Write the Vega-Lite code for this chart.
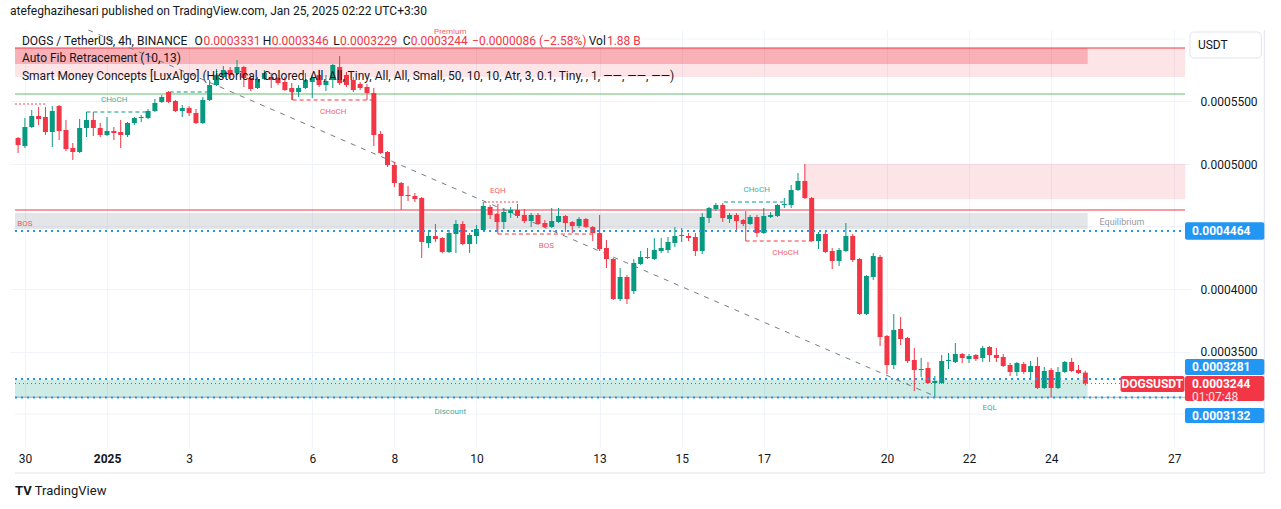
{
"$schema": "https://vega.github.io/schema/vega-lite/v6.json",
"width": 1180, "height": 417,
"autosize": {"type": "none"},
"padding": {"left": 10, "top": 30, "right": 91, "bottom": 62},
"background": "#ffffff",
"title": {"text": "atefeghazihesari published on TradingView.com, Jan 25, 2025 02:22 UTC+3:30", "anchor": "start", "frame": "group", "offset": 10, "fontSize": 12, "fontWeight": "normal", "color": "#131722", "font": "Roboto"},
"config": {"view": {"stroke": null}, "font": "Roboto",
  "axis": {"grid": true, "gridColor": "#f0f3fa", "ticks": false, "domain": false, "labelColor": "#131722", "labelFontSize": 12, "labelFont": "Roboto", "labelFlush": false, "labelOverlap": false},
  "axisX": {"labelPadding": 6}, "axisY": {"labelPadding": 10}},
"datasets": {
"candles": [
{"t":"2024-12-29T20:00","o":0.0005208,"h":0.0005216,"l":0.0005088,"c":0.0005152},
{"t":"2024-12-30T00:00","o":0.0005144,"h":0.0005368,"l":0.0005128,"c":0.0005296},
{"t":"2024-12-30T04:00","o":0.0005296,"h":0.0005432,"l":0.0005288,"c":0.0005384},
{"t":"2024-12-30T08:00","o":0.0005384,"h":0.0005456,"l":0.0005312,"c":0.0005360},
{"t":"2024-12-30T12:00","o":0.0005376,"h":0.0005456,"l":0.0005232,"c":0.0005256},
{"t":"2024-12-30T16:00","o":0.0005256,"h":0.0005464,"l":0.0005136,"c":0.0005424},
{"t":"2024-12-30T20:00","o":0.0005464,"h":0.0005472,"l":0.0005192,"c":0.0005264},
{"t":"2024-12-31T00:00","o":0.0005272,"h":0.0005352,"l":0.0005104,"c":0.0005120},
{"t":"2024-12-31T04:00","o":0.0005128,"h":0.0005168,"l":0.0005032,"c":0.0005096},
{"t":"2024-12-31T08:00","o":0.0005096,"h":0.0005360,"l":0.0005088,"c":0.0005288},
{"t":"2024-12-31T12:00","o":0.0005288,"h":0.0005416,"l":0.0005216,"c":0.0005352},
{"t":"2024-12-31T16:00","o":0.0005352,"h":0.0005416,"l":0.0005224,"c":0.0005288},
{"t":"2024-12-31T20:00","o":0.0005288,"h":0.0005328,"l":0.0005216,"c":0.0005232},
{"t":"2025-01-01T00:00","o":0.0005232,"h":0.0005376,"l":0.0005224,"c":0.0005264},
{"t":"2025-01-01T04:00","o":0.0005264,"h":0.0005296,"l":0.0005192,"c":0.0005248},
{"t":"2025-01-01T08:00","o":0.0005256,"h":0.0005352,"l":0.0005128,"c":0.0005232},
{"t":"2025-01-01T12:00","o":0.0005232,"h":0.0005336,"l":0.0005216,"c":0.0005328},
{"t":"2025-01-01T16:00","o":0.0005328,"h":0.0005376,"l":0.0005312,"c":0.0005368},
{"t":"2025-01-01T20:00","o":0.0005368,"h":0.0005392,"l":0.0005336,"c":0.0005376},
{"t":"2025-01-02T00:00","o":0.0005368,"h":0.0005440,"l":0.0005360,"c":0.0005424},
{"t":"2025-01-02T04:00","o":0.0005424,"h":0.0005520,"l":0.0005416,"c":0.0005488},
{"t":"2025-01-02T08:00","o":0.0005496,"h":0.0005552,"l":0.0005488,"c":0.0005536},
{"t":"2025-01-02T12:00","o":0.0005576,"h":0.0005584,"l":0.0005488,"c":0.0005496},
{"t":"2025-01-02T16:00","o":0.0005504,"h":0.0005512,"l":0.0005416,"c":0.0005424},
{"t":"2025-01-02T20:00","o":0.0005424,"h":0.0005472,"l":0.0005376,"c":0.0005448},
{"t":"2025-01-03T00:00","o":0.0005448,"h":0.0005464,"l":0.0005384,"c":0.0005408},
{"t":"2025-01-03T04:00","o":0.0005408,"h":0.0005440,"l":0.0005320,"c":0.0005328},
{"t":"2025-01-03T08:00","o":0.0005328,"h":0.0005536,"l":0.0005320,"c":0.0005512},
{"t":"2025-01-03T12:00","o":0.0005512,"h":0.0005672,"l":0.0005504,"c":0.0005632},
{"t":"2025-01-03T16:00","o":0.0005632,"h":0.0005760,"l":0.0005624,"c":0.0005712},
{"t":"2025-01-03T20:00","o":0.0005696,"h":0.0005784,"l":0.0005688,"c":0.0005752},
{"t":"2025-01-04T00:00","o":0.0005752,"h":0.0005776,"l":0.0005688,"c":0.0005712},
{"t":"2025-01-04T04:00","o":0.0005728,"h":0.0005832,"l":0.0005712,"c":0.0005776},
{"t":"2025-01-04T08:00","o":0.0005776,"h":0.0005784,"l":0.0005616,"c":0.0005688},
{"t":"2025-01-04T12:00","o":0.0005688,"h":0.0005712,"l":0.0005584,"c":0.0005600},
{"t":"2025-01-04T16:00","o":0.0005608,"h":0.0005696,"l":0.0005600,"c":0.0005680},
{"t":"2025-01-04T20:00","o":0.0005680,"h":0.0005752,"l":0.0005672,"c":0.0005728},
{"t":"2025-01-05T00:00","o":0.0005696,"h":0.0005728,"l":0.0005608,"c":0.0005672},
{"t":"2025-01-05T04:00","o":0.0005688,"h":0.0005696,"l":0.0005632,"c":0.0005648},
{"t":"2025-01-05T08:00","o":0.0005656,"h":0.0005696,"l":0.0005584,"c":0.0005592},
{"t":"2025-01-05T12:00","o":0.0005608,"h":0.0005648,"l":0.0005512,"c":0.0005576},
{"t":"2025-01-05T16:00","o":0.0005576,"h":0.0005632,"l":0.0005536,"c":0.0005608},
{"t":"2025-01-05T20:00","o":0.0005608,"h":0.0005728,"l":0.0005600,"c":0.0005672},
{"t":"2025-01-06T00:00","o":0.0005656,"h":0.0005712,"l":0.0005528,"c":0.0005688},
{"t":"2025-01-06T04:00","o":0.0005712,"h":0.0005752,"l":0.0005616,"c":0.0005632},
{"t":"2025-01-06T08:00","o":0.0005632,"h":0.0005712,"l":0.0005584,"c":0.0005664},
{"t":"2025-01-06T12:00","o":0.0005672,"h":0.0005800,"l":0.0005608,"c":0.0005792},
{"t":"2025-01-06T16:00","o":0.0005776,"h":0.0005864,"l":0.0005632,"c":0.0005648},
{"t":"2025-01-06T20:00","o":0.0005712,"h":0.0005736,"l":0.0005616,"c":0.0005632},
{"t":"2025-01-07T00:00","o":0.0005672,"h":0.0005696,"l":0.0005576,"c":0.0005592},
{"t":"2025-01-07T04:00","o":0.0005640,"h":0.0005656,"l":0.0005592,"c":0.0005608},
{"t":"2025-01-07T08:00","o":0.0005616,"h":0.0005640,"l":0.0005512,"c":0.0005568},
{"t":"2025-01-07T12:00","o":0.0005568,"h":0.0005608,"l":0.0005144,"c":0.0005232},
{"t":"2025-01-07T16:00","o":0.0005240,"h":0.0005264,"l":0.0005080,"c":0.0005088},
{"t":"2025-01-07T20:00","o":0.0005096,"h":0.0005104,"l":0.0004976,"c":0.0004992},
{"t":"2025-01-08T00:00","o":0.0004992,"h":0.0005016,"l":0.0004816,"c":0.0004848},
{"t":"2025-01-08T04:00","o":0.0004848,"h":0.0004856,"l":0.0004632,"c":0.0004744},
{"t":"2025-01-08T08:00","o":0.0004752,"h":0.0004824,"l":0.0004704,"c":0.0004744},
{"t":"2025-01-08T12:00","o":0.0004744,"h":0.0004768,"l":0.0004696,"c":0.0004720},
{"t":"2025-01-08T16:00","o":0.0004728,"h":0.0004736,"l":0.0004248,"c":0.0004376},
{"t":"2025-01-08T20:00","o":0.0004368,"h":0.0004472,"l":0.0004328,"c":0.0004424},
{"t":"2025-01-09T00:00","o":0.0004424,"h":0.0004520,"l":0.0004376,"c":0.0004400},
{"t":"2025-01-09T04:00","o":0.0004408,"h":0.0004416,"l":0.0004288,"c":0.0004296},
{"t":"2025-01-09T08:00","o":0.0004296,"h":0.0004472,"l":0.0004288,"c":0.0004448},
{"t":"2025-01-09T12:00","o":0.0004440,"h":0.0004552,"l":0.0004288,"c":0.0004520},
{"t":"2025-01-09T16:00","o":0.0004520,"h":0.0004544,"l":0.0004352,"c":0.0004360},
{"t":"2025-01-09T20:00","o":0.0004360,"h":0.0004448,"l":0.0004288,"c":0.0004432},
{"t":"2025-01-10T00:00","o":0.0004424,"h":0.0004512,"l":0.0004360,"c":0.0004480},
{"t":"2025-01-10T04:00","o":0.0004472,"h":0.0004696,"l":0.0004464,"c":0.0004664},
{"t":"2025-01-10T08:00","o":0.0004656,"h":0.0004672,"l":0.0004560,"c":0.0004592},
{"t":"2025-01-10T12:00","o":0.0004600,"h":0.0004608,"l":0.0004456,"c":0.0004536},
{"t":"2025-01-10T16:00","o":0.0004536,"h":0.0004648,"l":0.0004480,"c":0.0004616},
{"t":"2025-01-10T20:00","o":0.0004608,"h":0.0004656,"l":0.0004568,"c":0.0004632},
{"t":"2025-01-11T00:00","o":0.0004632,"h":0.0004680,"l":0.0004568,"c":0.0004584},
{"t":"2025-01-11T04:00","o":0.0004592,"h":0.0004640,"l":0.0004528,"c":0.0004544},
{"t":"2025-01-11T08:00","o":0.0004544,"h":0.0004608,"l":0.0004496,"c":0.0004592},
{"t":"2025-01-11T12:00","o":0.0004592,"h":0.0004608,"l":0.0004512,"c":0.0004520},
{"t":"2025-01-11T16:00","o":0.0004528,"h":0.0004552,"l":0.0004488,"c":0.0004496},
{"t":"2025-01-11T20:00","o":0.0004496,"h":0.0004648,"l":0.0004488,"c":0.0004544},
{"t":"2025-01-12T00:00","o":0.0004536,"h":0.0004648,"l":0.0004528,"c":0.0004584},
{"t":"2025-01-12T04:00","o":0.0004584,"h":0.0004592,"l":0.0004456,"c":0.0004528},
{"t":"2025-01-12T08:00","o":0.0004536,"h":0.0004544,"l":0.0004448,"c":0.0004504},
{"t":"2025-01-12T12:00","o":0.0004504,"h":0.0004576,"l":0.0004488,"c":0.0004560},
{"t":"2025-01-12T16:00","o":0.0004560,"h":0.0004568,"l":0.0004488,"c":0.0004496},
{"t":"2025-01-12T20:00","o":0.0004496,"h":0.0004504,"l":0.0004384,"c":0.0004448},
{"t":"2025-01-13T00:00","o":0.0004448,"h":0.0004592,"l":0.0004304,"c":0.0004320},
{"t":"2025-01-13T04:00","o":0.0004328,"h":0.0004392,"l":0.0004168,"c":0.0004240},
{"t":"2025-01-13T08:00","o":0.0004240,"h":0.0004248,"l":0.0003912,"c":0.0003920},
{"t":"2025-01-13T12:00","o":0.0003920,"h":0.0004168,"l":0.0003904,"c":0.0004096},
{"t":"2025-01-13T16:00","o":0.0004096,"h":0.0004112,"l":0.0003880,"c":0.0003920},
{"t":"2025-01-13T20:00","o":0.0003984,"h":0.0004240,"l":0.0003960,"c":0.0004208},
{"t":"2025-01-14T00:00","o":0.0004200,"h":0.0004304,"l":0.0004192,"c":0.0004256},
{"t":"2025-01-14T04:00","o":0.0004256,"h":0.0004328,"l":0.0004240,"c":0.0004248},
{"t":"2025-01-14T08:00","o":0.0004240,"h":0.0004408,"l":0.0004232,"c":0.0004312},
{"t":"2025-01-14T12:00","o":0.0004304,"h":0.0004408,"l":0.0004288,"c":0.0004328},
{"t":"2025-01-14T16:00","o":0.0004312,"h":0.0004416,"l":0.0004288,"c":0.0004376},
{"t":"2025-01-14T20:00","o":0.0004368,"h":0.0004496,"l":0.0004336,"c":0.0004424},
{"t":"2025-01-15T00:00","o":0.0004424,"h":0.0004488,"l":0.0004376,"c":0.0004432},
{"t":"2025-01-15T04:00","o":0.0004424,"h":0.0004448,"l":0.0004384,"c":0.0004408},
{"t":"2025-01-15T08:00","o":0.0004416,"h":0.0004448,"l":0.0004264,"c":0.0004304},
{"t":"2025-01-15T12:00","o":0.0004304,"h":0.0004608,"l":0.0004280,"c":0.0004576},
{"t":"2025-01-15T16:00","o":0.0004568,"h":0.0004656,"l":0.0004528,"c":0.0004648},
{"t":"2025-01-15T20:00","o":0.0004640,"h":0.0004688,"l":0.0004624,"c":0.0004672},
{"t":"2025-01-16T00:00","o":0.0004672,"h":0.0004688,"l":0.0004536,"c":0.0004568},
{"t":"2025-01-16T04:00","o":0.0004560,"h":0.0004608,"l":0.0004528,"c":0.0004592},
{"t":"2025-01-16T08:00","o":0.0004592,"h":0.0004608,"l":0.0004464,"c":0.0004544},
{"t":"2025-01-16T12:00","o":0.0004552,"h":0.0004560,"l":0.0004504,"c":0.0004520},
{"t":"2025-01-16T16:00","o":0.0004520,"h":0.0004592,"l":0.0004512,"c":0.0004576},
{"t":"2025-01-16T20:00","o":0.0004576,"h":0.0004592,"l":0.0004416,"c":0.0004448},
{"t":"2025-01-17T00:00","o":0.0004448,"h":0.0004648,"l":0.0004440,"c":0.0004584},
{"t":"2025-01-17T04:00","o":0.0004576,"h":0.0004616,"l":0.0004568,"c":0.0004592},
{"t":"2025-01-17T08:00","o":0.0004584,"h":0.0004680,"l":0.0004576,"c":0.0004672},
{"t":"2025-01-17T12:00","o":0.0004672,"h":0.0004728,"l":0.0004648,"c":0.0004680},
{"t":"2025-01-17T16:00","o":0.0004672,"h":0.0004832,"l":0.0004648,"c":0.0004792},
{"t":"2025-01-17T20:00","o":0.0004792,"h":0.0004928,"l":0.0004784,"c":0.0004864},
{"t":"2025-01-18T00:00","o":0.0004864,"h":0.0005000,"l":0.0004720,"c":0.0004728},
{"t":"2025-01-18T04:00","o":0.0004728,"h":0.0004736,"l":0.0004376,"c":0.0004384},
{"t":"2025-01-18T08:00","o":0.0004384,"h":0.0004456,"l":0.0004320,"c":0.0004440},
{"t":"2025-01-18T12:00","o":0.0004440,"h":0.0004464,"l":0.0004288,"c":0.0004296},
{"t":"2025-01-18T16:00","o":0.0004304,"h":0.0004328,"l":0.0004160,"c":0.0004224},
{"t":"2025-01-18T20:00","o":0.0004224,"h":0.0004328,"l":0.0004184,"c":0.0004312},
{"t":"2025-01-19T00:00","o":0.0004304,"h":0.0004528,"l":0.0004296,"c":0.0004424},
{"t":"2025-01-19T04:00","o":0.0004424,"h":0.0004440,"l":0.0004216,"c":0.0004232},
{"t":"2025-01-19T08:00","o":0.0004240,"h":0.0004248,"l":0.0003792,"c":0.0003800},
{"t":"2025-01-19T12:00","o":0.0003800,"h":0.0004112,"l":0.0003792,"c":0.0004104},
{"t":"2025-01-19T16:00","o":0.0004096,"h":0.0004288,"l":0.0004072,"c":0.0004264},
{"t":"2025-01-19T20:00","o":0.0004256,"h":0.0004272,"l":0.0003544,"c":0.0003616},
{"t":"2025-01-20T00:00","o":0.0003624,"h":0.0003632,"l":0.0003320,"c":0.0003392},
{"t":"2025-01-20T04:00","o":0.0003392,"h":0.0003800,"l":0.0003360,"c":0.0003672},
{"t":"2025-01-20T08:00","o":0.0003680,"h":0.0003776,"l":0.0003552,"c":0.0003600},
{"t":"2025-01-20T12:00","o":0.0003608,"h":0.0003616,"l":0.0003408,"c":0.0003424},
{"t":"2025-01-20T16:00","o":0.0003432,"h":0.0003528,"l":0.0003184,"c":0.0003352},
{"t":"2025-01-20T20:00","o":0.0003352,"h":0.0003448,"l":0.0003296,"c":0.0003360},
{"t":"2025-01-21T00:00","o":0.0003368,"h":0.0003416,"l":0.0003240,"c":0.0003248},
{"t":"2025-01-21T04:00","o":0.0003248,"h":0.0003304,"l":0.0003132,"c":0.0003264},
{"t":"2025-01-21T08:00","o":0.0003248,"h":0.0003472,"l":0.0003240,"c":0.0003424},
{"t":"2025-01-21T12:00","o":0.0003424,"h":0.0003488,"l":0.0003360,"c":0.0003432},
{"t":"2025-01-21T16:00","o":0.0003416,"h":0.0003568,"l":0.0003408,"c":0.0003480},
{"t":"2025-01-21T20:00","o":0.0003480,"h":0.0003488,"l":0.0003408,"c":0.0003448},
{"t":"2025-01-22T00:00","o":0.0003440,"h":0.0003480,"l":0.0003408,"c":0.0003464},
{"t":"2025-01-22T04:00","o":0.0003472,"h":0.0003480,"l":0.0003424,"c":0.0003440},
{"t":"2025-01-22T08:00","o":0.0003448,"h":0.0003544,"l":0.0003416,"c":0.0003528},
{"t":"2025-01-22T12:00","o":0.0003536,"h":0.0003544,"l":0.0003416,"c":0.0003472},
{"t":"2025-01-22T16:00","o":0.0003472,"h":0.0003528,"l":0.0003416,"c":0.0003448},
{"t":"2025-01-22T20:00","o":0.0003456,"h":0.0003480,"l":0.0003376,"c":0.0003384},
{"t":"2025-01-23T00:00","o":0.0003392,"h":0.0003408,"l":0.0003304,"c":0.0003336},
{"t":"2025-01-23T04:00","o":0.0003336,"h":0.0003416,"l":0.0003304,"c":0.0003408},
{"t":"2025-01-23T08:00","o":0.0003400,"h":0.0003416,"l":0.0003320,"c":0.0003336},
{"t":"2025-01-23T12:00","o":0.0003336,"h":0.0003424,"l":0.0003288,"c":0.0003384},
{"t":"2025-01-23T16:00","o":0.0003384,"h":0.0003456,"l":0.0003200,"c":0.0003208},
{"t":"2025-01-23T20:00","o":0.0003208,"h":0.0003376,"l":0.0003200,"c":0.0003344},
{"t":"2025-01-24T00:00","o":0.0003352,"h":0.0003368,"l":0.0003135,"c":0.0003208},
{"t":"2025-01-24T04:00","o":0.0003208,"h":0.0003376,"l":0.0003200,"c":0.0003336},
{"t":"2025-01-24T08:00","o":0.0003336,"h":0.0003424,"l":0.0003328,"c":0.0003416},
{"t":"2025-01-24T12:00","o":0.0003416,"h":0.0003448,"l":0.0003336,"c":0.0003344},
{"t":"2025-01-24T16:00","o":0.0003352,"h":0.0003392,"l":0.0003320,"c":0.0003328},
{"t":"2025-01-24T20:00","o":0.0003331,"h":0.0003346,"l":0.0003229,"c":0.0003244}
]
},
"layer": [
{"data": {"values": [{"t":"2024-12-29T18:12","t2":"2025-01-27T06:16","p":0.0006},{"t":"2024-12-29T18:12","t2":"2025-01-27T06:16","p":0.00045},{"t":"2024-12-29T18:12","t2":"2025-01-27T06:16","p":0.0003}]},
 "mark": {"type": "rule", "color": "#f0f3fa", "strokeWidth": 1},
 "encoding": {"x": {"field": "t", "type": "temporal", "title": null}, "x2": {"field": "t2"}, "y": {"field": "p", "type": "quantitative", "title": null}}},
{"data": {"values": [{"t":"2024-12-29T18:12","t2":"2025-01-27T06:16","p":0.0005928,"p2":0.0005696}]},
 "mark": {"type": "rect", "color": "#f23645", "opacity": 0.13},
 "encoding": {
  "x": {"field": "t", "type": "temporal", "title": null, "scale": {"domain": [{"year":2024,"month":12,"date":29,"hours":18,"minutes":12},{"year":2025,"month":1,"date":27,"hours":6,"minutes":16}]},
        "axis": {"values": [{"year":2024,"month":12,"date":30},{"year":2025,"month":1,"date":1},{"year":2025,"month":1,"date":3},{"year":2025,"month":1,"date":6},{"year":2025,"month":1,"date":8},{"year":2025,"month":1,"date":10},{"year":2025,"month":1,"date":13},{"year":2025,"month":1,"date":15},{"year":2025,"month":1,"date":17},{"year":2025,"month":1,"date":20},{"year":2025,"month":1,"date":22},{"year":2025,"month":1,"date":24},{"year":2025,"month":1,"date":27}],
                 "labelExpr": "(month(datum.value)==0 && date(datum.value)==1) ? '2025' : ('' + date(datum.value))",
                 "labelFontWeight": {"condition": {"test": "month(datum.value)==0 && date(datum.value)==1", "value": "bold"}, "value": "normal"},
                 "title": null}},
  "x2": {"field": "t2"},
  "y": {"field": "p", "type": "quantitative", "title": null, "scale": {"domain": [0.0002736, 0.0006072], "zero": false, "nice": false},
        "axis": {"orient": "right", "values": [0.00035,0.0004,0.0005,0.00055], "format": ".7f", "title": null}},
  "y2": {"field": "p2"}
 }},
{"data": {"values": [{"t":"2024-12-29T18:12","t2":"2025-01-24T21:20","p":0.0005928,"p2":0.0005800}]},
 "mark": {"type": "rect", "color": "#f23645", "opacity": 0.3},
 "encoding": {"x": {"field": "t", "type": "temporal", "title": null}, "x2": {"field": "t2"}, "y": {"field": "p", "type": "quantitative", "title": null}, "y2": {"field": "p2"}}},
{"data": {"values": [{"t":"2025-01-18T00:00","t2":"2025-01-27T06:16","p":0.0005000,"p2":0.0004720}]},
 "mark": {"type": "rect", "color": "#f23645", "opacity": 0.13, "stroke": "#f23645", "strokeOpacity": 0.25, "strokeWidth": 1},
 "encoding": {"x": {"field": "t", "type": "temporal", "title": null}, "x2": {"field": "t2"}, "y": {"field": "p", "type": "quantitative", "title": null}, "y2": {"field": "p2"}}},
{"data": {"values": [{"t":"2024-12-29T18:12","t2":"2025-01-24T21:20","p":0.0004608,"p2":0.0004480}]},
 "mark": {"type": "rect", "color": "#787b86", "opacity": 0.2},
 "encoding": {"x": {"field": "t", "type": "temporal", "title": null}, "x2": {"field": "t2"}, "y": {"field": "p", "type": "quantitative", "title": null}, "y2": {"field": "p2"}}},
{"data": {"values": [{"t":"2024-12-29T18:12","t2":"2025-01-24T21:20","p":0.0003272,"p2":0.0003132}]},
 "mark": {"type": "rect", "color": "#089981", "opacity": 0.2},
 "encoding": {"x": {"field": "t", "type": "temporal", "title": null}, "x2": {"field": "t2"}, "y": {"field": "p", "type": "quantitative", "title": null}, "y2": {"field": "p2"}}},
{"data": {"values": [{"t":"2024-12-29T18:12","t2":"2025-01-27T06:16","p":0.0005928},{"t":"2024-12-29T18:12","t2":"2025-01-27T06:16","p":0.0004632}]},
 "mark": {"type": "rule", "color": "#f23645", "strokeWidth": 1},
 "encoding": {"x": {"field": "t", "type": "temporal", "title": null}, "x2": {"field": "t2"}, "y": {"field": "p", "type": "quantitative", "title": null}}},
{"data": {"values": [{"t":"2024-12-29T18:12","t2":"2025-01-27T06:16","p":0.0005560}]},
 "mark": {"type": "rule", "color": "#66bb6a", "strokeWidth": 1},
 "encoding": {"x": {"field": "t", "type": "temporal", "title": null}, "x2": {"field": "t2"}, "y": {"field": "p", "type": "quantitative", "title": null}}},
{"data": {"values": [{"t":"2024-12-29T18:12","t2":"2025-01-27T06:16","p":0.0003134}]},
 "mark": {"type": "rule", "color": "#787b86", "strokeWidth": 1, "opacity": 0.6},
 "encoding": {"x": {"field": "t", "type": "temporal", "title": null}, "x2": {"field": "t2"}, "y": {"field": "p", "type": "quantitative", "title": null}}},
{"data": {"values": [{"t":"2024-12-29T18:12","t2":"2025-01-29T04:38","p":0.0002528},{"t":"2025-01-29T04:38","t2":"2025-01-29T04:38","p":0.0006072,"p2":0.0002528}]},
 "mark": {"type": "rule", "color": "#e0e3eb", "strokeWidth": 1, "clip": false},
 "encoding": {"x": {"field": "t", "type": "temporal", "title": null}, "x2": {"field": "t2"}, "y": {"field": "p", "type": "quantitative", "title": null}, "y2": {"field": "p2"}}},
{"data": {"values": [{"t":"2024-12-31T13:06","t2":"2025-01-21T02:26","p":0.0006072,"p2":0.0003152}]},
 "mark": {"type": "rule", "color": "#787b86", "strokeWidth": 1, "strokeDash": [5, 6]},
 "encoding": {"x": {"field": "t", "type": "temporal", "title": null}, "x2": {"field": "t2"}, "y": {"field": "p", "type": "quantitative", "title": null}, "y2": {"field": "p2"}}},
{"data": {"values": [{"t":"2024-12-31T11:57","t2":"2025-01-01T23:18","p":0.0005416},{"t":"2025-01-02T12:39","t2":"2025-01-03T12:24","p":0.0005576},{"t":"2025-01-16T00:42","t2":"2025-01-17T11:28","p":0.0004696}]},
 "mark": {"type": "rule", "color": "#089981", "strokeWidth": 1, "strokeDash": [4, 3]},
 "encoding": {"x": {"field": "t", "type": "temporal", "title": null}, "x2": {"field": "t2"}, "y": {"field": "p", "type": "quantitative", "title": null}}},
{"data": {"values": [{"t":"2025-01-05T12:31","t2":"2025-01-07T12:03","p":0.0005512},{"t":"2025-01-10T12:31","t2":"2025-01-12T19:35","p":0.0004440},{"t":"2025-01-16T13:26","t2":"2025-01-18T03:43","p":0.0004384}]},
 "mark": {"type": "rule", "color": "#f23645", "strokeWidth": 1, "strokeDash": [4, 3]},
 "encoding": {"x": {"field": "t", "type": "temporal", "title": null}, "x2": {"field": "t2"}, "y": {"field": "p", "type": "quantitative", "title": null}}},
{"data": {"values": [{"t":"2025-01-05T12:31","p":0.0005576,"p2":0.0005512},{"t":"2025-01-16T13:26","p":0.0004624,"p2":0.0004384},{"t":"2025-01-10T12:31","p":0.0004680,"p2":0.0004440}]},
 "mark": {"type": "rule", "color": "#f23645", "strokeWidth": 1},
 "encoding": {"x": {"field": "t", "type": "temporal", "title": null}, "y": {"field": "p", "type": "quantitative", "title": null}, "y2": {"field": "p2"}}},
{"data": {"values": [{"t":"2025-01-10T04:25","t2":"2025-01-11T00:42","p":0.0004696},{"t":"2024-12-29T18:12","t2":"2024-12-30T12:45","p":0.0005480}]},
 "mark": {"type": "rule", "color": "#f23645", "strokeWidth": 2, "strokeDash": [2, 2], "opacity": 0.45},
 "encoding": {"x": {"field": "t", "type": "temporal", "title": null}, "x2": {"field": "t2"}, "y": {"field": "p", "type": "quantitative", "title": null}}},
{"data": {"name": "candles"},
 "mark": {"type": "rule", "strokeWidth": 1},
 "encoding": {"x": {"field": "t", "type": "temporal", "title": null}, "y": {"field": "l", "type": "quantitative", "title": null}, "y2": {"field": "h"},
   "color": {"condition": {"test": "datum.c >= datum.o", "value": "#089981"}, "value": "#f23645"}}},
{"data": {"name": "candles"},
 "mark": {"type": "bar", "size": 5},
 "encoding": {"x": {"field": "t", "type": "temporal", "title": null}, "y": {"field": "o", "type": "quantitative", "title": null}, "y2": {"field": "c"},
   "color": {"condition": {"test": "datum.c >= datum.o", "value": "#089981"}, "value": "#f23645"}}},
{"data": {"values": [{"t":"2024-12-29T18:12","t2":"2025-01-27T06:16","p":0.0004464},{"t":"2024-12-29T18:12","t2":"2025-01-27T06:16","p":0.0003281},{"t":"2024-12-29T18:12","t2":"2025-01-27T06:16","p":0.0003132}]},
 "mark": {"type": "rule", "color": "#2196f3", "strokeWidth": 2, "strokeDash": [2, 4]},
 "encoding": {"x": {"field": "t", "type": "temporal", "title": null}, "x2": {"field": "t2"}, "y": {"field": "p", "type": "quantitative", "title": null}}},
{"data": {"values": [{"t":"2024-12-29T18:12","t2":"2025-01-27T06:16","p":0.0003244}]},
 "mark": {"type": "rule", "color": "#f23645", "strokeWidth": 1, "strokeDash": [1, 3]},
 "encoding": {"x": {"field": "t", "type": "temporal", "title": null}, "x2": {"field": "t2"}, "y": {"field": "p", "type": "quantitative", "title": null}}},
{"data": {"values": [{"t":"2024-12-29T22:16","p":0.0005984,"s":"DOGS / TetherUS, 4h, BINANCE"},{"t":"2025-01-03T03:07","p":0.0005984,"s":"O"},{"t":"2025-01-04T19:04","p":0.0005984,"s":"H"},{"t":"2025-01-06T12:12","p":0.0005984,"s":"L"},{"t":"2025-01-08T04:53","p":0.0005984,"s":"C"},{"t":"2025-01-12T17:38","p":0.0005984,"s":"Vol"},{"t":"2024-12-29T22:16","p":0.0005848,"s":"Auto Fib Retracement (10, 13)"},{"t":"2024-12-29T22:16","p":0.0005704,"s":"Smart Money Concepts [LuxAlgo] (Historical, Colored, All, All, Tiny, All, All, Small, 50, 10, 10, Atr, 3, 0.1, Tiny, , 1, ——, ——, ——)"}]},
 "mark": {"type": "text", "align": "left", "baseline": "middle", "fontSize": 12, "color": "#131722", "font": "Roboto"},
 "encoding": {"x": {"field": "t", "type": "temporal", "title": null}, "y": {"field": "p", "type": "quantitative", "title": null}, "text": {"field": "s"}}},
{"data": {"values": [{"t":"2025-01-03T08:21","p":0.0005984,"s":"0.0003331"},{"t":"2025-01-05T00:17","p":0.0005984,"s":"0.0003346"},{"t":"2025-01-06T16:16","p":0.0005984,"s":"0.0003229"},{"t":"2025-01-08T09:32","p":0.0005984,"s":"0.0003244"},{"t":"2025-01-09T21:27","p":0.0005984,"s":"−0.0000086 (−2.58%)"},{"t":"2025-01-13T04:17","p":0.0005984,"s":"1.88 B"}]},
 "mark": {"type": "text", "align": "left", "baseline": "middle", "fontSize": 12, "color": "#f23645", "font": "Roboto"},
 "encoding": {"x": {"field": "t", "type": "temporal", "title": null}, "y": {"field": "p", "type": "quantitative", "title": null}, "text": {"field": "s"}}},
{"data": {"values": [{"t":"2025-01-09T08:41","p":0.0006060,"s":"Premium"},{"t":"2025-01-10T12:31","p":0.0004784,"s":"EQH"},{"t":"2025-01-11T16:55","p":0.0004344,"s":"BOS"},{"t":"2024-12-30T00:00","p":0.0004520,"s":"BOS"},{"t":"2025-01-06T12:17","p":0.0005416,"s":"CHoCH"},{"t":"2025-01-17T12:38","p":0.0004288,"s":"CHoCH"}]},
 "mark": {"type": "text", "align": "center", "baseline": "middle", "fontSize": 8, "color": "#f23645", "opacity": 0.8, "font": "Roboto"},
 "encoding": {"x": {"field": "t", "type": "temporal", "title": null}, "y": {"field": "p", "type": "quantitative", "title": null}, "text": {"field": "s"}}},
{"data": {"values": [{"t":"2025-01-09T08:41","p":0.0003016,"s":"Discount"},{"t":"2025-01-22T12:00","p":0.0003048,"s":"EQL"},{"t":"2025-01-01T04:10","p":0.0005512,"s":"CHoCH"},{"t":"2025-01-16T19:49","p":0.0004792,"s":"CHoCH"}]},
 "mark": {"type": "text", "align": "center", "baseline": "middle", "fontSize": 8, "color": "#089981", "opacity": 0.8, "font": "Roboto"},
 "encoding": {"x": {"field": "t", "type": "temporal", "title": null}, "y": {"field": "p", "type": "quantitative", "title": null}, "text": {"field": "s"}}},
{"data": {"values": [{"t":"2025-01-25T04:19","p":0.0004536,"s":"Equilibrium"}]},
 "mark": {"type": "text", "align": "left", "baseline": "middle", "fontSize": 9, "color": "#9598a1", "font": "Roboto"},
 "encoding": {"x": {"field": "t", "type": "temporal", "title": null}, "y": {"field": "p", "type": "quantitative", "title": null}, "text": {"field": "s"}}},
{"data": {"values": [{"t":"2025-01-27T06:16","t2":"2025-01-29T04:38","p":0.0004534,"p2":0.0004394},{"t":"2025-01-27T06:16","t2":"2025-01-29T04:38","p":0.0003440,"p2":0.0003312},{"t":"2025-01-27T06:16","t2":"2025-01-29T04:38","p":0.0003048,"p2":0.0002928}]},
 "mark": {"type": "rect", "color": "#2196f3", "cornerRadius": 2, "clip": false},
 "encoding": {"x": {"field": "t", "type": "temporal", "title": null}, "x2": {"field": "t2"}, "y": {"field": "p", "type": "quantitative", "title": null}, "y2": {"field": "p2"}}},
{"data": {"values": [{"t":"2025-01-27T06:16","t2":"2025-01-29T04:38","p":0.0003304,"p2":0.0003104},{"t":"2025-01-25T16:35","t2":"2025-01-27T06:00","p":0.0003304,"p2":0.0003176}]},
 "mark": {"type": "rect", "color": "#f23645", "cornerRadius": 2, "clip": false},
 "encoding": {"x": {"field": "t", "type": "temporal", "title": null}, "x2": {"field": "t2"}, "y": {"field": "p", "type": "quantitative", "title": null}, "y2": {"field": "p2"}}},
{"data": {"values": [{"t":"2025-01-27T09:10","t2":"2025-01-29T02:53","p":0.0006056,"p2":0.0005848}]},
 "mark": {"type": "rect", "color": "#ffffff", "stroke": "#e0e3eb", "strokeWidth": 1, "cornerRadius": 4, "clip": false},
 "encoding": {"x": {"field": "t", "type": "temporal", "title": null}, "x2": {"field": "t2"}, "y": {"field": "p", "type": "quantitative", "title": null}, "y2": {"field": "p2"}}},
{"data": {"values": [{"t":"2025-01-27T13:48","p":0.0005952,"s":"USDT"}]},
 "mark": {"type": "text", "align": "left", "baseline": "middle", "fontSize": 12, "color": "#131722", "font": "Roboto", "clip": false},
 "encoding": {"x": {"field": "t", "type": "temporal", "title": null}, "y": {"field": "p", "type": "quantitative", "title": null}, "text": {"field": "s"}}},
{"data": {"values": [{"t":"2025-01-27T10:19","p":0.0004464,"s":"0.0004464"},{"t":"2025-01-27T10:19","p":0.0003376,"s":"0.0003281"},{"t":"2025-01-27T10:19","p":0.0003240,"s":"0.0003244"},{"t":"2025-01-27T10:19","p":0.0002988,"s":"0.0003132"}]},
 "mark": {"type": "text", "align": "left", "baseline": "middle", "fontSize": 12, "fontWeight": "bold", "color": "#ffffff", "font": "Roboto", "clip": false},
 "encoding": {"x": {"field": "t", "type": "temporal", "title": null}, "y": {"field": "p", "type": "quantitative", "title": null}, "text": {"field": "s"}}},
{"data": {"values": [{"t":"2025-01-27T10:19","p":0.0003136,"s":"01:07:48"}]},
 "mark": {"type": "text", "align": "left", "baseline": "middle", "fontSize": 12, "color": "#ffffff", "opacity": 0.85, "font": "Roboto", "clip": false},
 "encoding": {"x": {"field": "t", "type": "temporal", "title": null}, "y": {"field": "p", "type": "quantitative", "title": null}, "text": {"field": "s"}}},
{"data": {"values": [{"t":"2025-01-26T11:08","p":0.0003240,"s":"DOGSUSDT"}]},
 "mark": {"type": "text", "align": "center", "baseline": "middle", "fontSize": 12, "fontWeight": "bold", "color": "#ffffff", "font": "Roboto", "clip": false},
 "encoding": {"x": {"field": "t", "type": "temporal", "title": null}, "y": {"field": "p", "type": "quantitative", "title": null}, "text": {"field": "s"}}},
{"data": {"values": [{"t":"2024-12-29T18:12","p":0.0002384,"s":"TV"}]},
 "mark": {"type": "text", "align": "left", "baseline": "middle", "fontSize": 13, "fontWeight": "bold", "color": "#131722", "font": "Roboto", "clip": false},
 "encoding": {"x": {"field": "t", "type": "temporal", "title": null}, "y": {"field": "p", "type": "quantitative", "title": null}, "text": {"field": "s"}}},
{"data": {"values": [{"t":"2024-12-30T05:48","p":0.0002384,"s":"TradingView"}]},
 "mark": {"type": "text", "align": "left", "baseline": "middle", "fontSize": 13, "color": "#131722", "font": "Roboto", "clip": false},
 "encoding": {"x": {"field": "t", "type": "temporal", "title": null}, "y": {"field": "p", "type": "quantitative", "title": null}, "text": {"field": "s"}}}
]
}
